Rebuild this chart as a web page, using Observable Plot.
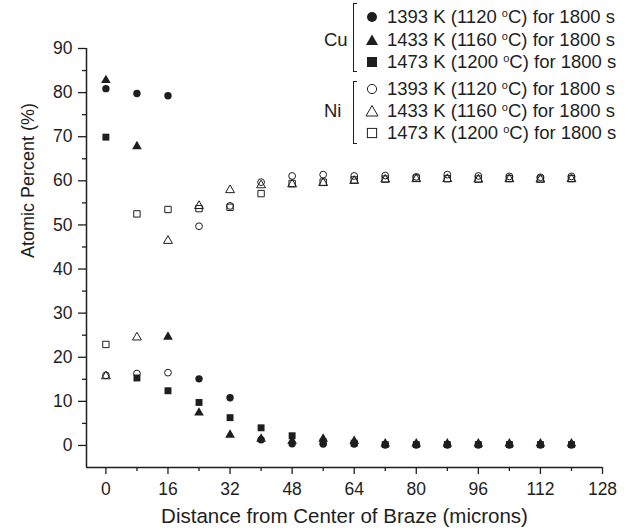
<!DOCTYPE html>
<html>
<head>
<meta charset="utf-8">
<script src="https://cdn.jsdelivr.net/npm/d3@7"></script>
<script src="https://cdn.jsdelivr.net/npm/@observablehq/plot@0.6"></script>
<style>
  html, body { margin: 0; padding: 0; background: #fff; }
  #wrap { position: relative; width: 631px; height: 531px; font-family: "Liberation Sans", Arial, sans-serif; color: #1e1e1e; }
  #wrap svg { display: block; }
  .lg { position: absolute; white-space: nowrap; font-size: 18.5px; line-height: 22px; }
  .lg sup { font-size: 11px; vertical-align: 6px; line-height: 0; }
  .br { position: absolute; border: 1.3px solid #1e1e1e; border-right: none; width: 3px; }
</style>
</head>
<body>
<div id="wrap"></div>
<script>
// ---- data ----
const distance = [0, 8, 16, 24, 32, 40, 48, 56, 64, 72, 80, 88, 96, 104, 112, 120];

// Cu, filled markers
const cu1393 = [80.9, 79.8, 79.3, 15.1, 10.8, 1.3, 0.4, 0.3, 0.3, 0.1, 0.1, 0.1, 0.1, 0.1, 0.1, 0.1];
const cu1433 = [82.8, 67.8, 24.6, 7.4, 2.4, 1.5, 1.0, 1.5, 1.0, 0.4, 0.4, 0.4, 0.4, 0.4, 0.4, 0.4];
const cu1473 = [69.9, 15.3, 12.4, 9.75, 6.3, 4.0, 2.2, 0.8, 0.5, 0.2, 0.2, 0.2, 0.2, 0.2, 0.2, 0.2];

// Ni, open markers
const ni1393 = [15.9, 16.3, 16.5, 49.7, 54.3, 59.7, 61.1, 61.4, 61.1, 61.2, 60.9, 61.4, 61.1, 61.0, 60.8, 61.0];
const ni1433 = [15.7, 24.5, 46.4, 54.3, 57.9, 59.0, 59.2, 59.5, 60.0, 60.3, 60.4, 60.4, 60.3, 60.4, 60.3, 60.4];
const ni1473 = [22.9, 52.5, 53.5, 53.7, 54.0, 57.1, 59.4, 59.7, 60.2, 60.4, 60.6, 60.5, 60.4, 60.5, 60.4, 60.5];

const kelvin = [1393, 1433, 1473];
const celsius = [1120, 1160, 1200];
const holdTime = 1800;
const symbols = ["circle", "triangle", "square"];

const xMajor = [0, 16, 32, 48, 64, 80, 96, 112, 128];
const xMinor = [8, 24, 40, 56, 72, 88, 104, 120];
const yMajor = [0, 10, 20, 30, 40, 50, 60, 70, 80, 90];
const yMinor = [5, 15, 25, 35, 45, 55, 65, 75, 85];

const xTitle = "Distance from Center of Braze (microns)";
const yTitle = "Atomic Percent (%)";

// ---- build ----
const ink = "#1e1e1e";
const rows = ys => distance.map((x, i) => ({x, y: ys[i]}));
const rSize = {circle: 3.7, triangle: 3.6, square: 3.9};

const cuSeries = [cu1393, cu1433, cu1473];
const niSeries = [ni1393, ni1433, ni1473];

const dotMarks = [];
cuSeries.forEach((s, i) => dotMarks.push(Plot.dot(rows(s), {x: "x", y: "y", symbol: symbols[i], r: rSize[symbols[i]], fill: ink, stroke: "none"})));
niSeries.forEach((s, i) => dotMarks.push(Plot.dot(rows(s), {x: "x", y: "y", symbol: symbols[i], r: rSize[symbols[i]] - 0.3, fill: "none", stroke: ink, strokeWidth: 1})));

const chart = Plot.plot({
  width: 631,
  height: 531,
  marginLeft: 86,
  marginRight: 29,
  marginTop: 48,
  marginBottom: 64,
  x: {domain: [-5, 128]},
  y: {domain: [-5, 90]},
  style: {fontFamily: "'Liberation Sans', Arial, sans-serif", fontSize: "17.5px", color: ink, background: "white", overflow: "visible"},
  marks: [
    Plot.axisX({ticks: xMajor, tickSize: 7, tickPadding: 8, label: null, fontSize: 17.5, strokeWidth: 1.3}),
    Plot.axisX({ticks: xMinor, tickSize: 4, tickFormat: () => "", label: null, strokeWidth: 1.3}),
    Plot.axisY({ticks: yMajor, tickSize: 8, tickPadding: 6, label: null, fontSize: 17.5, strokeWidth: 1.3}),
    Plot.axisY({ticks: yMinor, tickSize: 4, tickFormat: () => "", label: null, strokeWidth: 1.3}),
    Plot.ruleX([-5], {stroke: ink, strokeWidth: 1.5}),
    Plot.ruleY([-5], {stroke: ink, strokeWidth: 1.5}),
    Plot.text([xTitle], {frameAnchor: "bottom", dy: 55, fontSize: 20.5, fill: ink}),
    Plot.text([yTitle], {frameAnchor: "left", dx: -58, rotate: -90, fontSize: 18, fill: ink}),
    ...dotMarks
  ]
});

const wrap = document.getElementById("wrap");
wrap.appendChild(chart);

// ---- legend (HTML overlay) ----
const groups = [
  {name: "Cu", filled: true, rowsY: [17, 39.5, 62], nameY: 39.5, brTop: 3, brH: 67},
  {name: "Ni", filled: false, rowsY: [89, 111, 133], nameY: 111, brTop: 81, brH: 61}
];
const symPath = {
  circle: (f) => `<circle cx="7" cy="7" r="${f ? 5 : 4.6}" />`,
  triangle: (f) => `<polygon points="7,1.5 13,12 1,12" />`,
  square: (f) => `<rect x="${f ? 2 : 2.4}" y="${f ? 2 : 2.4}" width="${f ? 10 : 9.2}" height="${f ? 10 : 9.2}" />`
};
groups.forEach(g => {
  const nm = document.createElement("div");
  nm.className = "lg";
  nm.style.left = "324px";
  nm.style.top = (g.nameY - 11) + "px";
  nm.textContent = g.name;
  wrap.appendChild(nm);

  const br = document.createElement("div");
  br.className = "br";
  br.style.left = "353px";
  br.style.top = g.brTop + "px";
  br.style.height = g.brH + "px";
  wrap.appendChild(br);

  g.rowsY.forEach((y, i) => {
    const s = document.createElement("div");
    s.style.position = "absolute";
    s.style.left = (372 - 7) + "px";
    s.style.top = (y - 7) + "px";
    const style = g.filled ? `fill="${ink}" stroke="none"` : `fill="none" stroke="${ink}" stroke-width="1"`;
    s.innerHTML = `<svg width="14" height="14" ${style}>${symPath[symbols[i]](g.filled)}</svg>`;
    wrap.appendChild(s);

    const t = document.createElement("div");
    t.className = "lg";
    t.style.left = "387px";
    t.style.top = (y - 11) + "px";
    t.innerHTML = `${kelvin[i]} K (${celsius[i]} <sup>o</sup>C) for ${holdTime} s`;
    wrap.appendChild(t);
  });
});
</script>
</body>
</html>
